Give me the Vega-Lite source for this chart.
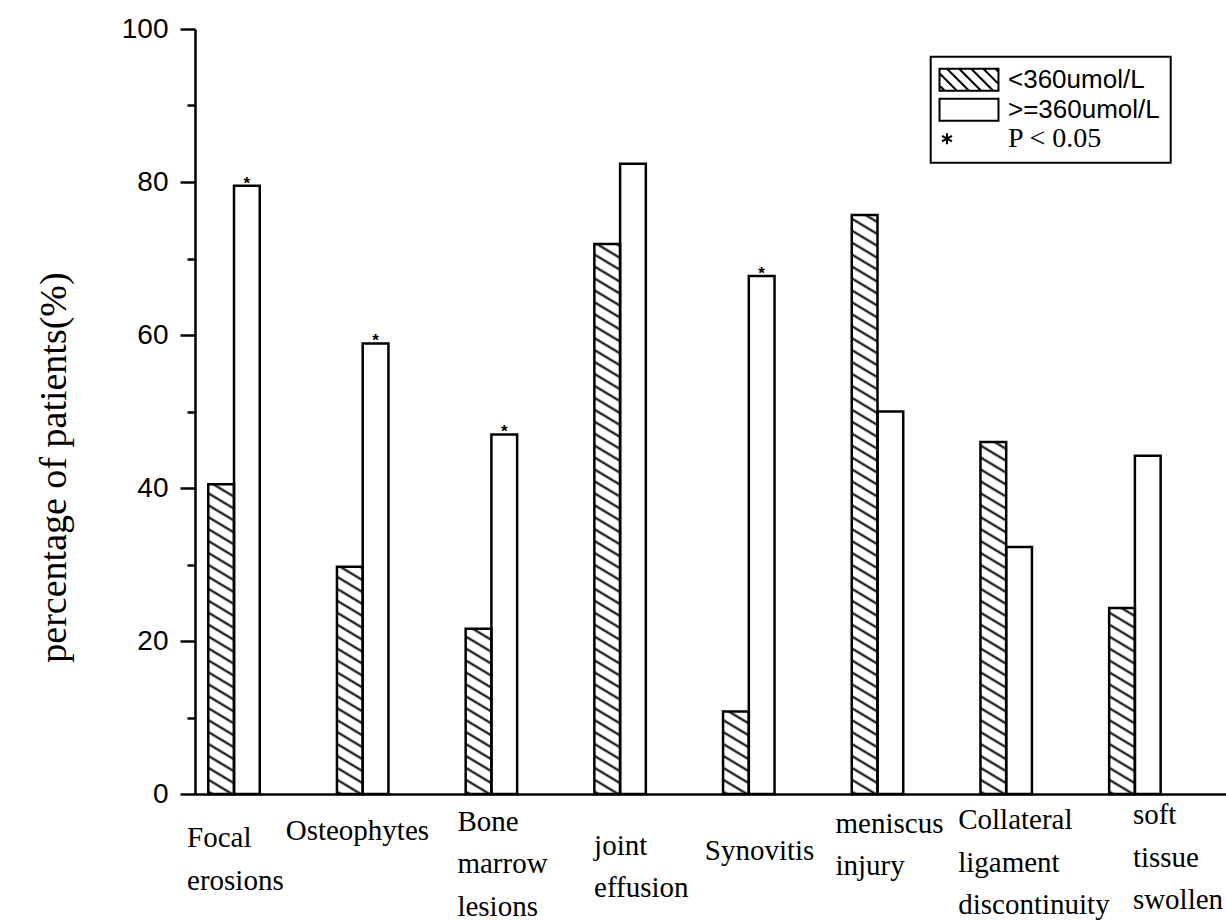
{
  "$schema": "https://vega.github.io/schema/vega-lite/v6.json",
  "width": 1031,
  "height": 765,
  "autosize": "none",
  "padding": {"left": 195, "top": 29, "right": 0, "bottom": 127},
  "background": "white",
  "config": {"view": {"stroke": null}, "legend": {"strokeWidth": 2}},
  "data": {
    "values": [
      {"category": "Focal erosions", "group": "<360umol/L", "value": 40.5, "sig": false},
      {"category": "Focal erosions", "group": ">=360umol/L", "value": 79.5, "sig": true},
      {"category": "Osteophytes", "group": "<360umol/L", "value": 29.7, "sig": false},
      {"category": "Osteophytes", "group": ">=360umol/L", "value": 58.9, "sig": true},
      {"category": "Bone marrow lesions", "group": "<360umol/L", "value": 21.6, "sig": false},
      {"category": "Bone marrow lesions", "group": ">=360umol/L", "value": 47.0, "sig": true},
      {"category": "joint effusion", "group": "<360umol/L", "value": 71.9, "sig": false},
      {"category": "joint effusion", "group": ">=360umol/L", "value": 82.4, "sig": false},
      {"category": "Synovitis", "group": "<360umol/L", "value": 10.8, "sig": false},
      {"category": "Synovitis", "group": ">=360umol/L", "value": 67.7, "sig": true},
      {"category": "meniscus injury", "group": "<360umol/L", "value": 75.7, "sig": false},
      {"category": "meniscus injury", "group": ">=360umol/L", "value": 50.0, "sig": false},
      {"category": "Collateral ligament discontinuity", "group": "<360umol/L", "value": 46.0, "sig": false},
      {"category": "Collateral ligament discontinuity", "group": ">=360umol/L", "value": 32.3, "sig": false},
      {"category": "soft tissue swollen", "group": "<360umol/L", "value": 24.3, "sig": false},
      {"category": "soft tissue swollen", "group": ">=360umol/L", "value": 44.2, "sig": false}
    ]
  },
  "encoding": {
    "x": {
      "field": "category",
      "type": "nominal",
      "sort": null,
      "scale": {
        "domain": ["Focal erosions", "Osteophytes", "Bone marrow lesions", "joint effusion", "Synovitis", "meniscus injury", "Collateral ligament discontinuity", "soft tissue swollen"],
        "paddingInner": 0.6,
        "paddingOuter": 0.3055,
        "align": 0.1687,
        "round": false
      },
      "axis": {
        "title": null,
        "ticks": false,
        "tickSize": 0,
        "domainWidth": 2.5,
        "domainColor": "black",
        "labelFont": "Liberation Serif",
        "labelFontSize": 29,
        "labelColor": "black",
        "labelAlign": "left",
        "labelBaseline": "alphabetic",
        "labelLineHeight": 42.5,
        "labelAngle": 0,
        "labelOverlap": false,
        "labelLimit": 400,
        "labelExpr": "split(datum.label, ' ')",
        "labelOffset": {
          "condition": [
            {"test": "datum.value === 'Focal erosions'", "value": -47},
            {"test": "datum.value === 'Osteophytes'", "value": -77},
            {"test": "datum.value === 'Bone marrow lesions'", "value": -34},
            {"test": "datum.value === 'joint effusion'", "value": -26},
            {"test": "datum.value === 'Synovitis'", "value": -44},
            {"test": "datum.value === 'meniscus injury'", "value": -42},
            {"test": "datum.value === 'Collateral ligament discontinuity'", "value": -48}
          ],
          "value": -2
        },
        "labelPadding": {
          "condition": [
            {"test": "datum.value === 'Focal erosions'", "value": 52.8},
            {"test": "datum.value === 'Osteophytes'", "value": 45.6},
            {"test": "datum.value === 'Bone marrow lesions'", "value": 36},
            {"test": "datum.value === 'joint effusion'", "value": 60},
            {"test": "datum.value === 'Synovitis'", "value": 65},
            {"test": "datum.value === 'meniscus injury'", "value": 38},
            {"test": "datum.value === 'Collateral ligament discontinuity'", "value": 34.7}
          ],
          "value": 29.7
        }
      }
    },
    "xOffset": {
      "field": "group",
      "type": "nominal",
      "scale": {"domain": ["<360umol/L", ">=360umol/L"], "paddingInner": 0, "paddingOuter": 0}
    },
    "y": {
      "field": "value",
      "type": "quantitative",
      "scale": {"domain": [0, 100], "nice": false, "zero": true},
      "axis": {
        "title": "percentage of patients(%)",
        "titleFont": "Liberation Serif",
        "titleFontSize": 38,
        "titleFontWeight": "normal",
        "titleColor": "black",
        "titleX": -141,
        "titleY": 438,
        "titleAlign": "center",
        "titleBaseline": "middle",
        "grid": false,
        "values": [0, 10, 20, 30, 40, 50, 60, 70, 80, 90, 100],
        "labelExpr": "datum.value % 20 === 0 ? datum.label : ''",
        "labelFont": "Liberation Sans",
        "labelFontSize": 28,
        "labelColor": "black",
        "labelPadding": 12,
        "labelBaseline": "middle",
        "tickSize": {"condition": {"test": "datum.value % 20 === 0", "value": 15}, "value": 8},
        "tickWidth": 2.5,
        "tickColor": "black",
        "domainWidth": 2.5,
        "domainColor": "black"
      }
    }
  },
  "layer": [
    {
      "transform": [{"filter": "datum.group === '<360umol/L'"}],
      "mark": {
        "type": "bar",
        "stroke": null,
        "fill": {
          "gradient": "linear",
          "x1": 0, "y1": 1, "x2": 0.02724, "y2": -0.02584,
          "stops": [
            {"offset": 0, "color": "#fff"}, {"offset": 0.004, "color": "#000"}, {"offset": 0.008, "color": "#fff"},
            {"offset": 0.02, "color": "#fff"}, {"offset": 0.024, "color": "#000"}, {"offset": 0.028, "color": "#fff"},
            {"offset": 0.04, "color": "#fff"}, {"offset": 0.044, "color": "#000"}, {"offset": 0.048, "color": "#fff"},
            {"offset": 0.06, "color": "#fff"}, {"offset": 0.064, "color": "#000"}, {"offset": 0.068, "color": "#fff"},
            {"offset": 0.08, "color": "#fff"}, {"offset": 0.084, "color": "#000"}, {"offset": 0.088, "color": "#fff"},
            {"offset": 0.1, "color": "#fff"}, {"offset": 0.104, "color": "#000"}, {"offset": 0.108, "color": "#fff"},
            {"offset": 0.12, "color": "#fff"}, {"offset": 0.124, "color": "#000"}, {"offset": 0.128, "color": "#fff"},
            {"offset": 0.14, "color": "#fff"}, {"offset": 0.144, "color": "#000"}, {"offset": 0.148, "color": "#fff"},
            {"offset": 0.16, "color": "#fff"}, {"offset": 0.164, "color": "#000"}, {"offset": 0.168, "color": "#fff"},
            {"offset": 0.18, "color": "#fff"}, {"offset": 0.184, "color": "#000"}, {"offset": 0.188, "color": "#fff"},
            {"offset": 0.2, "color": "#fff"}, {"offset": 0.204, "color": "#000"}, {"offset": 0.208, "color": "#fff"},
            {"offset": 0.22, "color": "#fff"}, {"offset": 0.224, "color": "#000"}, {"offset": 0.228, "color": "#fff"},
            {"offset": 0.24, "color": "#fff"}, {"offset": 0.244, "color": "#000"}, {"offset": 0.248, "color": "#fff"},
            {"offset": 0.26, "color": "#fff"}, {"offset": 0.264, "color": "#000"}, {"offset": 0.268, "color": "#fff"},
            {"offset": 0.28, "color": "#fff"}, {"offset": 0.284, "color": "#000"}, {"offset": 0.288, "color": "#fff"},
            {"offset": 0.3, "color": "#fff"}, {"offset": 0.304, "color": "#000"}, {"offset": 0.308, "color": "#fff"},
            {"offset": 0.32, "color": "#fff"}, {"offset": 0.324, "color": "#000"}, {"offset": 0.328, "color": "#fff"},
            {"offset": 0.34, "color": "#fff"}, {"offset": 0.344, "color": "#000"}, {"offset": 0.348, "color": "#fff"},
            {"offset": 0.36, "color": "#fff"}, {"offset": 0.364, "color": "#000"}, {"offset": 0.368, "color": "#fff"},
            {"offset": 0.38, "color": "#fff"}, {"offset": 0.384, "color": "#000"}, {"offset": 0.388, "color": "#fff"},
            {"offset": 0.4, "color": "#fff"}, {"offset": 0.404, "color": "#000"}, {"offset": 0.408, "color": "#fff"},
            {"offset": 0.42, "color": "#fff"}, {"offset": 0.424, "color": "#000"}, {"offset": 0.428, "color": "#fff"},
            {"offset": 0.44, "color": "#fff"}, {"offset": 0.444, "color": "#000"}, {"offset": 0.448, "color": "#fff"},
            {"offset": 0.46, "color": "#fff"}, {"offset": 0.464, "color": "#000"}, {"offset": 0.468, "color": "#fff"},
            {"offset": 0.48, "color": "#fff"}, {"offset": 0.484, "color": "#000"}, {"offset": 0.488, "color": "#fff"},
            {"offset": 0.5, "color": "#fff"}, {"offset": 0.504, "color": "#000"}, {"offset": 0.508, "color": "#fff"},
            {"offset": 0.52, "color": "#fff"}, {"offset": 0.524, "color": "#000"}, {"offset": 0.528, "color": "#fff"},
            {"offset": 0.54, "color": "#fff"}, {"offset": 0.544, "color": "#000"}, {"offset": 0.548, "color": "#fff"},
            {"offset": 0.56, "color": "#fff"}, {"offset": 0.564, "color": "#000"}, {"offset": 0.568, "color": "#fff"},
            {"offset": 0.58, "color": "#fff"}, {"offset": 0.584, "color": "#000"}, {"offset": 0.588, "color": "#fff"},
            {"offset": 0.6, "color": "#fff"}, {"offset": 0.604, "color": "#000"}, {"offset": 0.608, "color": "#fff"},
            {"offset": 0.62, "color": "#fff"}, {"offset": 0.624, "color": "#000"}, {"offset": 0.628, "color": "#fff"},
            {"offset": 0.64, "color": "#fff"}, {"offset": 0.644, "color": "#000"}, {"offset": 0.648, "color": "#fff"},
            {"offset": 0.66, "color": "#fff"}, {"offset": 0.664, "color": "#000"}, {"offset": 0.668, "color": "#fff"},
            {"offset": 0.68, "color": "#fff"}, {"offset": 0.684, "color": "#000"}, {"offset": 0.688, "color": "#fff"},
            {"offset": 0.7, "color": "#fff"}, {"offset": 0.704, "color": "#000"}, {"offset": 0.708, "color": "#fff"},
            {"offset": 0.72, "color": "#fff"}, {"offset": 0.724, "color": "#000"}, {"offset": 0.728, "color": "#fff"},
            {"offset": 0.74, "color": "#fff"}, {"offset": 0.744, "color": "#000"}, {"offset": 0.748, "color": "#fff"},
            {"offset": 0.76, "color": "#fff"}, {"offset": 0.764, "color": "#000"}, {"offset": 0.768, "color": "#fff"},
            {"offset": 0.78, "color": "#fff"}, {"offset": 0.784, "color": "#000"}, {"offset": 0.788, "color": "#fff"},
            {"offset": 0.8, "color": "#fff"}, {"offset": 0.804, "color": "#000"}, {"offset": 0.808, "color": "#fff"},
            {"offset": 0.82, "color": "#fff"}, {"offset": 0.824, "color": "#000"}, {"offset": 0.828, "color": "#fff"},
            {"offset": 0.84, "color": "#fff"}, {"offset": 0.844, "color": "#000"}, {"offset": 0.848, "color": "#fff"},
            {"offset": 0.86, "color": "#fff"}, {"offset": 0.864, "color": "#000"}, {"offset": 0.868, "color": "#fff"},
            {"offset": 0.88, "color": "#fff"}, {"offset": 0.884, "color": "#000"}, {"offset": 0.888, "color": "#fff"},
            {"offset": 0.9, "color": "#fff"}, {"offset": 0.904, "color": "#000"}, {"offset": 0.908, "color": "#fff"},
            {"offset": 0.92, "color": "#fff"}, {"offset": 0.924, "color": "#000"}, {"offset": 0.928, "color": "#fff"},
            {"offset": 0.94, "color": "#fff"}, {"offset": 0.944, "color": "#000"}, {"offset": 0.948, "color": "#fff"},
            {"offset": 0.96, "color": "#fff"}, {"offset": 0.964, "color": "#000"}, {"offset": 0.968, "color": "#fff"},
            {"offset": 0.98, "color": "#fff"}, {"offset": 0.984, "color": "#000"}, {"offset": 0.988, "color": "#fff"},
            {"offset": 1, "color": "#fff"}
          ]
        }
      },
      "encoding": {
        "y": {
          "datum": 0,
          "type": "quantitative",
          "axis": {
            "title": "percentage of patients(%)",
            "titleFont": "Liberation Serif",
            "titleFontSize": 38,
            "titleFontWeight": "normal",
            "titleColor": "black",
            "titleX": -141,
            "titleY": 438,
            "titleAlign": "center",
            "titleBaseline": "middle",
            "grid": false,
            "values": [0, 10, 20, 30, 40, 50, 60, 70, 80, 90, 100],
            "labelExpr": "datum.value % 20 === 0 ? datum.label : ''",
            "labelFont": "Liberation Sans",
            "labelFontSize": 28,
            "labelColor": "black",
            "labelPadding": 12,
            "labelBaseline": "middle",
            "tickSize": {"condition": {"test": "datum.value % 20 === 0", "value": 15}, "value": 8},
            "tickWidth": 2.5,
            "tickColor": "black",
            "domainWidth": 2.5,
            "domainColor": "black"
          }
        },
        "y2": {"datum": 76}
      }
    },
    {
      "transform": [{"filter": "datum.group === '<360umol/L'"}],
      "mark": {"type": "bar", "fill": "white", "stroke": "white", "strokeWidth": 1.5},
      "encoding": {
        "y2": {"datum": 76}
      }
    },
    {
      "mark": {"type": "bar", "fill": "transparent", "stroke": "black", "strokeWidth": 2.5}
    },
    {
      "transform": [{"filter": "datum.sig && datum.group === '>=360umol/L'"}],
      "mark": {"type": "text", "text": "*", "font": "Liberation Sans", "fontSize": 17, "fontWeight": "bold", "color": "black", "baseline": "alphabetic", "align": "center", "dy": 3}
    },
    {
      "mark": {"type": "point", "filled": false, "opacity": 0, "size": 484, "strokeWidth": 2, "color": "black"},
      "encoding": {
        "shape": {
          "field": "group",
          "type": "nominal",
          "scale": {
            "domain": ["<360umol/L", ">=360umol/L", "P < 0.05"],
            "range": [
              "M-2.68,-1H2.68V1H-2.68ZM-2.68,0.52L-2.2,1M-2.68,-0.58L-1.1,1M-2,-1L0,1M-0.9,-1L1.1,1M0.2,-1L2.2,1M1.3,-1L2.68,0.38M2.4,-1L2.68,-0.72",
              "M-2.68,-1H2.68V1H-2.68Z",
              "M-2,-0.5L-2,0.5M-2.45,-0.25L-1.55,0.25M-2.45,0.25L-1.55,-0.25"
            ]
          },
          "legend": {
            "title": null,
            "orient": "none",
            "legendX": 735.7,
            "legendY": 27.7,
            "direction": "vertical",
            "padding": 10,
            "strokeColor": "black",
            "symbolOffset": 15.3,
            "labelOffset": 26,
            "rowPadding": 0,
            "symbolSize": 484,
            "symbolStrokeWidth": 2,
            "symbolStrokeColor": "black",
            "symbolFillColor": "transparent",
            "symbolOpacity": 1,
            "labelFont": {"expr": "datum.label === 'P < 0.05' ? 'Liberation Serif' : 'Liberation Sans'"},
            "labelFontSize": {"expr": "datum.label === 'P < 0.05' ? 28 : 26"},
            "labelColor": "black",
            "labelLimit": 400
          }
        }
      }
    }
  ]
}
